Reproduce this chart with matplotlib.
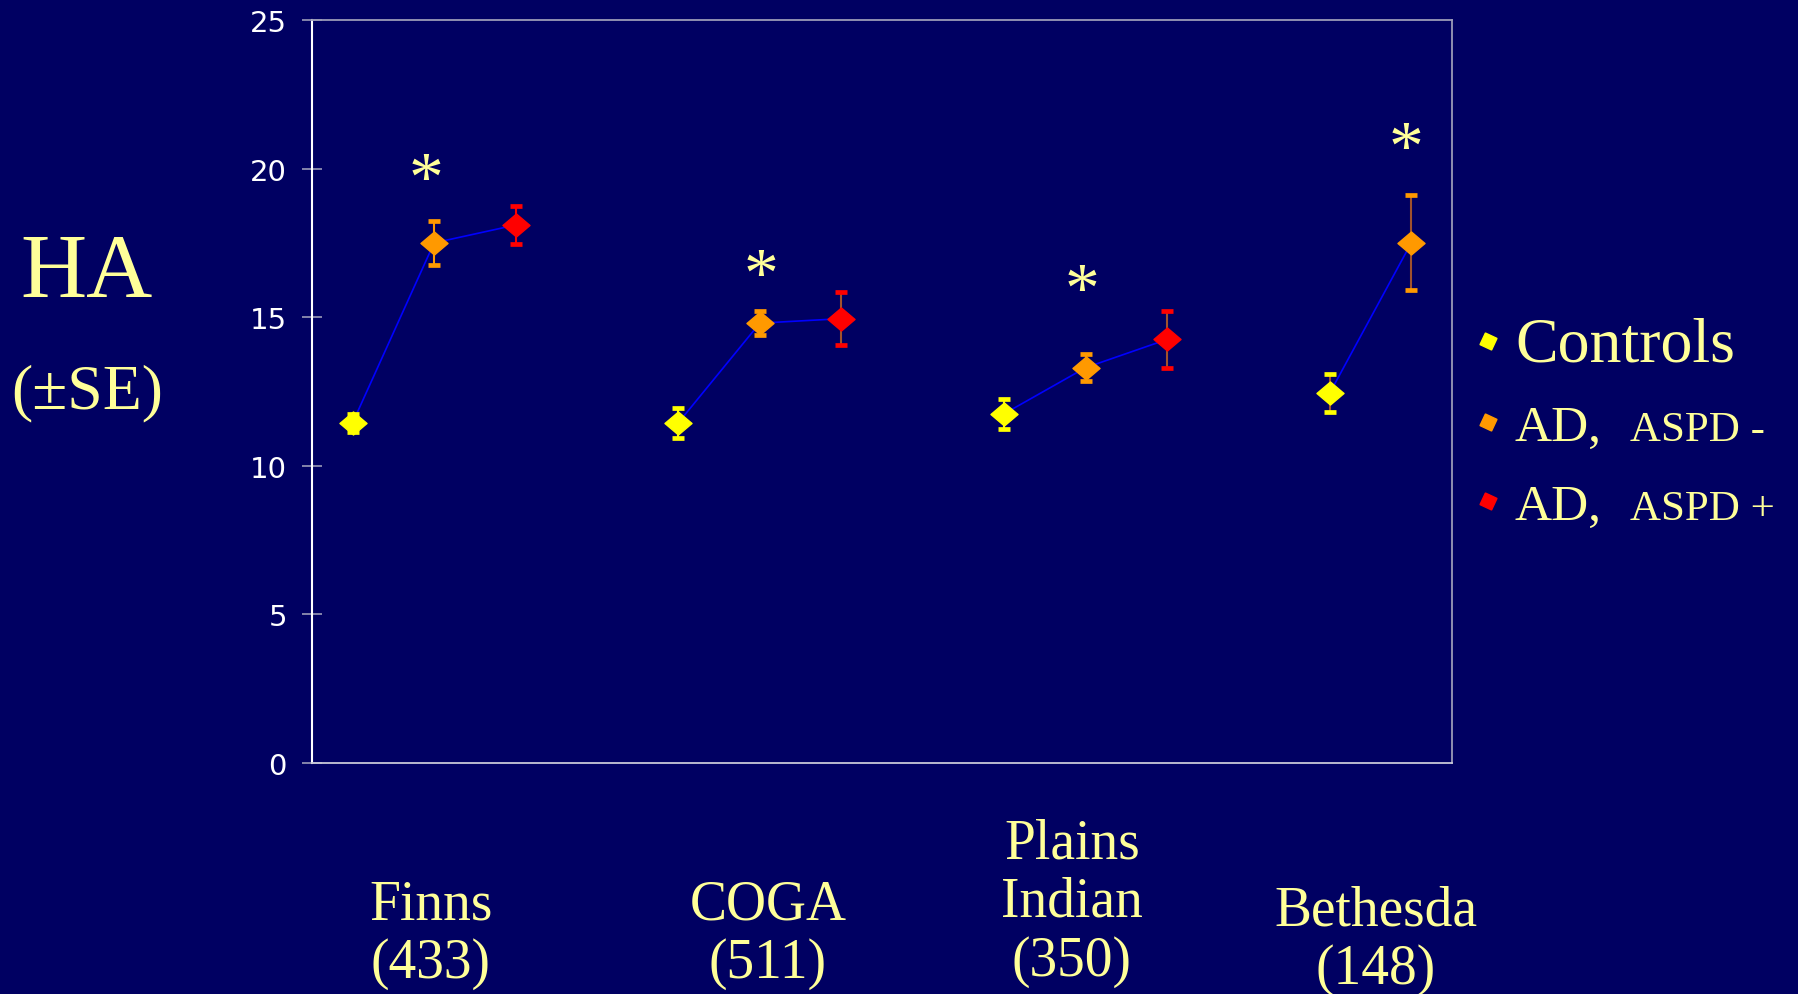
import numpy as np
import matplotlib
matplotlib.use("Agg")
import matplotlib.pyplot as plt
from matplotlib.path import Path

# data
groups = ["Finns\n(433)", "COGA\n(511)", "Plains\nIndian\n(350)", "Bethesda\n(148)"]
series = ["Controls", "AD, ASPD -", "AD, ASPD +"]
xpos = [[0.5, 1.5, 2.5], [4.5, 5.5, 6.5], [8.5, 9.5, 10.5], [12.5, 13.5]]
means = [[11.45, 17.5, 18.1], [11.45, 14.8, 14.95], [11.75, 13.3, 14.25], [12.45, 17.5]]
errs = [[0.3, 0.75, 0.65], [0.5, 0.4, 0.9], [0.5, 0.45, 0.95], [0.65, 1.6]]
star_x = [1.4, 5.52, 9.46, 13.44]
star_y = [19.8, 16.55, 16.05, 20.85]

bg = "#000062"
cream = "#FFFF99"
cols = ["#FFFF00", "#FF9900", "#FF0000"]
brown = "#a0522d"
stem_col = [cols, [cols[0], cols[1], brown], [cols[0], cols[1], brown], [brown, brown]]

# wide diamond marker
diamond = Path([(-1, 0), (0, 0.85), (1, 0), (0, -0.85), (-1, 0)],
               [Path.MOVETO, Path.LINETO, Path.LINETO, Path.LINETO, Path.CLOSEPOLY])

fig = plt.figure(figsize=(17.99, 9.95), dpi=100, facecolor=bg)
ax = fig.add_axes([0.1734, 0.2322, 0.6337, 0.7467], facecolor=bg)

for g in range(len(groups)):
    x = xpos[g]
    y = means[g]
    ax.plot(x, y, color="#0000ff", lw=1.2, zorder=2)
    for i in range(len(x)):
        ax.errorbar(x[i], y[i], yerr=errs[g][i], fmt="none", ecolor=stem_col[g][i],
                    elinewidth=1.5, capsize=0, zorder=3)
        # caps in the series colour
        ax.plot([x[i], x[i]], [y[i] - errs[g][i], y[i] + errs[g][i]], ls="none",
                marker="_", ms=9, mew=3.4, color=cols[i], zorder=3)
        ax.plot(x[i], y[i], ls="none", marker=diamond, ms=19.5, color=cols[i],
                mec=cols[i], zorder=4)
    ax.text(star_x[g], star_y[g], "*", color=cream, fontsize=50,
            family="Liberation Serif", ha="center", va="center_baseline", zorder=5)

ax.set_xlim(0, 14)
ax.set_ylim(0, 25)
ax.set_yticks([0, 5, 10, 15, 20, 25])
ax.set_xticks([])
ax.tick_params(axis="y", direction="inout", length=14, width=1.2, color="#9a9ab8",
               labelcolor="white", labelsize=21, pad=11)
for lab in ax.get_yticklabels():
    lab.set_family("DejaVu Sans")
ax.spines["left"].set_color("white")
ax.spines["left"].set_linewidth(1.5)
ax.spines["bottom"].set_color("#c8c8d8")
ax.spines["bottom"].set_linewidth(1.3)
for s in ["top", "right"]:
    ax.spines[s].set_color("#9a9ab8")
    ax.spines[s].set_linewidth(1.3)

# group labels under the plot
lab_x = [431, 768, 1072, 1376]
lab_y = [0.0608, 0.0608, 0.0925, 0.0543]
for g in range(len(groups)):
    fig.text(lab_x[g] / 1799, lab_y[g], groups[g], color=cream, fontsize=40,
             family="Liberation Serif", ha="center", va="center", linespacing=1.17)

# y label
fig.text(87 / 1799, 0.7236, "HA", color=cream, fontsize=66, family="Liberation Serif",
         ha="center", va="center")
fig.text(87 / 1799, 0.6045, "(\u00b1SE)", color=cream, fontsize=46,
         family="Liberation Serif", ha="center", va="center")

# legend drawn by hand (mixed font sizes)
leg_my = [342, 423, 502]
leg_base = [362, 441, 520]
for i in range(3):
    fig.add_artist(plt.Line2D([1488 / 1799], [1 - leg_my[i] / 995], marker=(4, 0, 20),
                              ms=13, color=cols[i], ls="none", transform=fig.transFigure))
fig.text(1515 / 1799, 1 - leg_base[0] / 995, "Controls", color=cream, fontsize=46,
         family="Liberation Serif", va="baseline")
for i in [1, 2]:
    fig.text(1515 / 1799, 1 - leg_base[i] / 995, "AD,", color=cream, fontsize=37,
             family="Liberation Serif", va="baseline")
    fig.text(1630 / 1799, 1 - leg_base[i] / 995, series[i].split(", ")[1], color=cream,
             fontsize=31, family="Liberation Serif", va="baseline")

fig.savefig("out.png", dpi=100, facecolor=bg)
